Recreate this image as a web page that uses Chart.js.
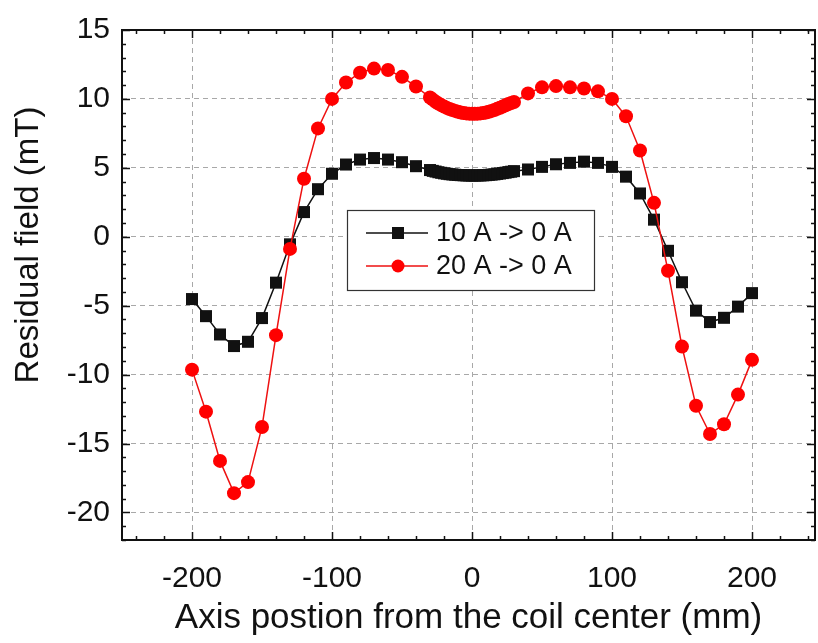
<!DOCTYPE html>
<html lang="en">
<head>
  <meta charset="UTF-8" />
  <title>Residual field</title>
  <script src="https://cdn.jsdelivr.net/npm/chart.js"></script>
  <style>
    * { margin: 0; padding: 0; box-sizing: border-box; }
    html, body { background: #fff; width: 818px; height: 643px; overflow: hidden; }
    #wrap { position: absolute; left: 0; top: 0; width: 818px; height: 643px; }
  </style>
</head>
<body>
  <div id="wrap"><canvas id="grafico" width="818" height="643"></canvas></div>

<script>
  // axis position (mm), shared by both curves
  const positionsMm = [
    -200, -190, -180, -170, -160, -150, -140, -130, -120, -110, -100, -90, -80, -70, -60, -50, -40,
    -30, -28, -26, -24, -22, -20, -18, -16, -14, -12, -10, -8, -6, -4, -2,
    0, 2, 4, 6, 8, 10, 12, 14, 16, 18, 20, 22, 24, 26, 28, 30,
    40, 50, 60, 70, 80, 90, 100, 110, 120, 130, 140, 150, 160, 170, 180, 190, 200
  ];

  // residual field (mT) after 10 A -> 0 A
  const field10A = [
    -4.52, -5.76, -7.09, -7.93, -7.62, -5.9, -3.33, -0.55, 1.79, 3.45, 4.57, 5.24, 5.6, 5.71, 5.6, 5.41, 5.12,
    4.84, 4.78, 4.73, 4.68, 4.64, 4.6, 4.57, 4.54, 4.52, 4.5, 4.48, 4.47, 4.46, 4.45, 4.45,
    4.44, 4.44, 4.45, 4.45, 4.46, 4.47, 4.49, 4.51, 4.53, 4.56, 4.59, 4.62, 4.65, 4.69, 4.72, 4.76,
    4.88, 5.07, 5.26, 5.36, 5.45, 5.36, 5.07, 4.36, 3.14, 1.24, -1.02, -3.3, -5.36, -6.19, -5.88, -5.07, -4.09
  ];

  // residual field (mT) after 20 A -> 0 A
  const field20A = [
    -9.64, -12.69, -16.26, -18.6, -17.8, -13.8, -7.14, -0.88, 4.21, 7.86, 10.0, 11.19, 11.9, 12.2, 12.1, 11.6, 10.9,
    10.1, 9.95, 9.8, 9.67, 9.55, 9.45, 9.35, 9.27, 9.2, 9.13, 9.07, 9.02, 8.98, 8.95, 8.93,
    8.92, 8.92, 8.93, 8.95, 8.98, 9.02, 9.07, 9.13, 9.2, 9.28, 9.36, 9.45, 9.54, 9.63, 9.7, 9.78,
    10.4, 10.84, 10.93, 10.84, 10.76, 10.55, 10.0, 8.74, 6.26, 2.46, -2.47, -7.97, -12.26, -14.31, -13.6, -11.45, -8.93
  ];

  const seriesLabels = ["10 A -> 0 A", "20 A -> 0 A"];
  const xTickValues = [-200, -100, 0, 100, 200];
  const yTickValues = [-20, -15, -10, -5, 0, 5, 10, 15];
  const xMinorStep = 20;
  const yMinorStep = 1;

  const xTitle = "Axis postion from the coil center (mm)";
  const yTitle = "Residual field (mT)";
  const fonte = "'Liberation Sans', Arial, sans-serif";

  function pontos(ys) {
    return positionsMm.map((x, i) => ({ x: x, y: ys[i] }));
  }

  // frame with inward ticks on all four sides
  const moldura = {
    id: "moldura",
    afterDraw(chart) {
      const ctx = chart.ctx;
      const { left, right, top, bottom } = chart.chartArea;
      const sx = chart.scales.x, sy = chart.scales.y;
      ctx.save();
      ctx.strokeStyle = "#111";
      ctx.lineWidth = 1.5;
      for (let v = Math.ceil(sx.min / xMinorStep) * xMinorStep; v <= sx.max; v += xMinorStep) {
        const px = Math.round(sx.getPixelForValue(v)) + 0.5;
        const len = v % 100 === 0 ? 8 : 4;
        ctx.beginPath();
        ctx.moveTo(px, bottom); ctx.lineTo(px, bottom - len);
        ctx.moveTo(px, top); ctx.lineTo(px, top + len);
        ctx.stroke();
      }
      for (let v = Math.ceil(sy.min / yMinorStep) * yMinorStep; v <= sy.max; v += yMinorStep) {
        const py = Math.round(sy.getPixelForValue(v)) + 0.5;
        const len = v % 5 === 0 ? 8 : 4;
        ctx.beginPath();
        ctx.moveTo(left, py); ctx.lineTo(left + len, py);
        ctx.moveTo(right, py); ctx.lineTo(right - len, py);
        ctx.stroke();
      }
      ctx.lineWidth = 2;
      ctx.strokeRect(left, top, right - left, bottom - top);

      // y axis title
      ctx.fillStyle = "#111";
      ctx.font = "33px " + fonte;
      ctx.textAlign = "center";
      ctx.textBaseline = "middle";
      ctx.translate(29, 245);
      ctx.rotate(-Math.PI / 2);
      ctx.fillText(yTitle, 0, 0);
      ctx.restore();
    }
  };

  // legend box inside the plot
  const legenda = {
    id: "legenda",
    afterDraw(chart) {
      const ctx = chart.ctx;
      const { left, top } = chart.chartArea;
      const bx = left + 225, by = top + 180, bw = 247, bh = 80;
      ctx.save();
      ctx.fillStyle = "#fff";
      ctx.fillRect(bx, by, bw, bh);
      ctx.strokeStyle = "#333";
      ctx.lineWidth = 1.2;
      ctx.strokeRect(bx + 0.5, by + 0.5, bw, bh);
      const ordem = [0, 1];
      ordem.forEach((di, row) => {
        const ds = chart.data.datasets[di];
        const y = by + 23 + row * 33;
        ctx.strokeStyle = ds.borderColor;
        ctx.lineWidth = 1.5;
        ctx.beginPath();
        ctx.moveTo(bx + 19, y); ctx.lineTo(bx + 81, y);
        ctx.stroke();
        ctx.fillStyle = ds.pointBackgroundColor;
        if (ds.pointStyle === "rect") {
          ctx.fillRect(bx + 51 - 6, y - 6, 12, 12);
        } else {
          ctx.beginPath();
          ctx.arc(bx + 51, y, 6.5, 0, Math.PI * 2);
          ctx.fill();
        }
        ctx.fillStyle = "#111";
        ctx.font = "27px " + fonte;
        ctx.textAlign = "left";
        ctx.textBaseline = "middle";
        ctx.fillText(ds.label, bx + 89, y + 1);
      });
      ctx.restore();
    }
  };

  const ctx = document.getElementById("grafico").getContext("2d");
  new Chart(ctx, {
    type: "line",
    data: {
      datasets: [
        {
          label: seriesLabels[0],
          data: pontos(field10A),
          borderColor: "#111",
          backgroundColor: "#111",
          pointBackgroundColor: "#111",
          pointBorderColor: "#111",
          pointStyle: "rect",
          pointRadius: 8.5,
          pointBorderWidth: 0,
          borderWidth: 1.5,
          tension: 0,
          order: 1
        },
        {
          label: seriesLabels[1],
          data: pontos(field20A),
          borderColor: "#ee1111",
          backgroundColor: "#ee1111",
          pointBackgroundColor: "#ff0000",
          pointBorderColor: "#ff0000",
          pointStyle: "circle",
          pointRadius: 7,
          pointBorderWidth: 0,
          borderWidth: 1.5,
          tension: 0,
          order: 0
        }
      ]
    },
    options: {
      responsive: false,
      animation: false,
      layout: { autoPadding: false, padding: { top: 22, right: 3, left: 0, bottom: 0 } },
      plugins: {
        legend: { display: false },
        tooltip: { enabled: false }
      },
      scales: {
        x: {
          type: "linear",
          min: -250,
          max: 245,
          afterBuildTicks: (s) => { s.ticks = xTickValues.map(v => ({ value: v })); },
          afterFit: (s) => { s.height = 103; s.paddingRight = 0; s.paddingLeft = 0; },
          grid: { color: "#a8a8a8", lineWidth: 1, drawTicks: false },
          border: { display: false, dash: [5, 4] },
          ticks: {
            color: "#111",
            padding: 21,
            maxRotation: 0,
            font: { family: fonte, size: 30 }
          },
          title: {
            display: true,
            text: xTitle,
            color: "#111",
            font: { family: fonte, size: 35 },
            padding: { top: 0, bottom: 4 }
          }
        },
        y: {
          min: -22,
          max: 15,
          afterBuildTicks: (s) => { s.ticks = yTickValues.map(v => ({ value: v })); },
          afterFit: (s) => { s.width = 122; },
          grid: { color: "#a8a8a8", lineWidth: 1, drawTicks: false },
          border: { display: false, dash: [5, 4] },
          ticks: {
            color: "#111",
            padding: 12,
            font: { family: fonte, size: 30 }
          }
        }
      }
    },
    plugins: [moldura, legenda]
  });
</script>
</body>
</html>
